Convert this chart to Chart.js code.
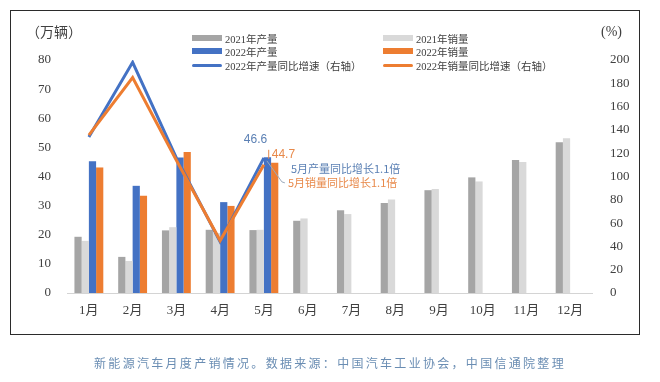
<!DOCTYPE html>
<html><head><meta charset="utf-8">
<script src="https://cdn.jsdelivr.net/npm/chart.js@4/dist/chart.umd.min.js"></script>
<style>
html,body{margin:0;padding:0;background:#fff;}
#wrap{position:relative;width:660px;height:382px;overflow:hidden;background:#fff;}
#frame{position:absolute;left:10px;top:10px;width:628px;height:323px;border:1.5px solid #2b2b2b;}
#c{position:absolute;left:0;top:0;}
.t{position:absolute;font-family:'Liberation Serif','Noto Sans CJK SC',serif;color:#404040;white-space:nowrap;}
.lg{position:absolute;font-family:'Liberation Serif','Noto Sans CJK SC',serif;font-size:10.5px;color:#404040;display:flex;align-items:center;white-space:nowrap;height:12px;}
.sw{display:inline-block;width:30px;margin-right:3px;}
#cap{position:absolute;top:354px;left:0;width:660px;text-align:center;font-family:'Noto Sans CJK SC';font-size:12px;color:#6a8db3;letter-spacing:2.3px;}
</style></head>
<body>
<div id="wrap">
<div id="frame"></div>
<canvas id="c" width="660" height="382"></canvas>
<div class="t" style="left:26px;top:21px;font-size:14px;">（万辆）</div>
<div class="t" style="left:601px;top:24px;font-size:14px;">(%)</div>
<div class="lg" style="left:192px;top:32px;"><span class="sw" style="height:6px;background:#a5a5a5"></span>2021年产量</div>
<div class="lg" style="left:383px;top:32px;"><span class="sw" style="height:6px;background:#d9d9d9"></span>2021年销量</div>
<div class="lg" style="left:192px;top:45px;"><span class="sw" style="height:6px;background:#4472c4"></span>2022年产量</div>
<div class="lg" style="left:383px;top:45px;"><span class="sw" style="height:6px;background:#ed7d31"></span>2022年销量</div>
<div class="lg" style="left:192px;top:59px;"><span class="sw" style="height:3px;border-radius:2px;background:#4472c4"></span>2022年产量同比增速（右轴）</div>
<div class="lg" style="left:383px;top:59px;"><span class="sw" style="height:3px;border-radius:2px;background:#ed7d31"></span>2022年销量同比增速（右轴）</div>
<div id="cap">新能源汽车月度产销情况。数据来源：中国汽车工业协会，中国信通院整理</div>
</div>
<script>
const months = ['1月','2月','3月','4月','5月','6月','7月','8月','9月','10月','11月','12月'];
const prod2021 = [19.3, 12.4, 21.5, 21.7, 21.6, 24.8, 28.4, 30.9, 35.3, 39.7, 45.7, 51.8];
const sales2021 = [17.9, 11.0, 22.6, 20.6, 21.7, 25.6, 27.1, 32.1, 35.7, 38.3, 45.0, 53.1];
const prod2022 = [45.2, 36.8, 46.5, 31.2, 46.6, null, null, null, null, null, null, null];
const sales2022 = [43.1, 33.4, 48.4, 29.9, 44.7, null, null, null, null, null, null, null];
const prodGrowth2022 = [134, 198, 116, 44, 116, null, null, null, null, null, null, null];
const salesGrowth2022 = [135.5, 185, 114, 45, 110, null, null, null, null, null, null, null];
const mayIndex = 4;
const prodNote = '5月产量同比增长1.1倍';
const salesNote = '5月销量同比增长1.1倍';

const tickFont = {family:"'Liberation Serif','Noto Sans CJK SC',serif", size:13};

const annot = {
  id:'annot',
  afterDatasetsDraw(chart){
    const ctx = chart.ctx;
    const pb = chart.getDatasetMeta(4).data[mayIndex];
    const sb = chart.getDatasetMeta(5).data[mayIndex];
    const lp = chart.getDatasetMeta(1).data[mayIndex];
    ctx.save();
    ctx.textBaseline = 'middle';
    ctx.font = "12px 'Liberation Sans','Noto Sans CJK SC',sans-serif";
    ctx.fillStyle = '#5b80b4';
    ctx.textAlign = 'center';
    ctx.fillText(String(prod2022[mayIndex]), pb.x - 12, pb.y - 18);
    ctx.fillStyle = '#e8894a';
    ctx.textAlign = 'left';
    ctx.fillText(String(sales2022[mayIndex]), sb.x - 3, sb.y - 8);
    ctx.strokeStyle = '#e8894a';
    ctx.lineWidth = 1;
    ctx.beginPath();
    ctx.moveTo(sb.x - 6, sb.y - 13); ctx.lineTo(sb.x - 6, sb.y - 4);
    ctx.stroke();
    ctx.strokeStyle = '#9aa9bb';
    ctx.beginPath();
    ctx.moveTo(lp.x + 3, lp.y + 3); ctx.lineTo(lp.x + 18, lp.y + 24); ctx.lineTo(lp.x + 21, lp.y + 25);
    ctx.stroke();
    ctx.font = "11px 'Noto Sans CJK SC',sans-serif";
    ctx.fillStyle = '#5b80b4';
    ctx.fillText(prodNote, lp.x + 27, lp.y + 11);
    ctx.fillStyle = '#e8894a';
    ctx.fillText(salesNote, lp.x + 24, lp.y + 25);
    ctx.restore();
  }
};

new Chart(document.getElementById('c'), {
  data: {
    labels: months,
    datasets: [
      {type:'line', label:'2022年销量同比增速（右轴）', data:salesGrowth2022, yAxisID:'y1', borderColor:'#ed7d31', borderWidth:3, pointRadius:0, tension:0, order:0, spanGaps:false},
      {type:'line', label:'2022年产量同比增速（右轴）', data:prodGrowth2022, yAxisID:'y1', borderColor:'#4472c4', borderWidth:3, pointRadius:0, tension:0, order:1, spanGaps:false},
      {type:'bar', label:'2021年产量', data:prod2021, yAxisID:'y', backgroundColor:'#a5a5a5', order:2},
      {type:'bar', label:'2021年销量', data:sales2021, yAxisID:'y', backgroundColor:'#d9d9d9', order:2},
      {type:'bar', label:'2022年产量', data:prod2022, yAxisID:'y', backgroundColor:'#4472c4', order:2},
      {type:'bar', label:'2022年销量', data:sales2022, yAxisID:'y', backgroundColor:'#ed7d31', order:2}
    ]
  },
  options: {
    responsive:false, animation:false, devicePixelRatio:1,
    layout:{padding:{top:60,left:0,right:0,bottom:0}},
    datasets:{bar:{categoryPercentage:0.66, barPercentage:1.0}},
    plugins:{legend:{display:false}, tooltip:{enabled:false}},
    scales:{
      x:{grid:{display:false, drawTicks:false}, border:{display:true, color:'#d4d4d4', width:1},
         ticks:{padding:10, color:'#404040', font:tickFont, autoSkip:false, maxRotation:0},
         afterFit(s){ s.height = 382 - 293; }},
      y:{position:'left', min:0, max:80, grid:{display:false}, border:{display:false},
         ticks:{stepSize:10, padding:8, color:'#404040', font:tickFont},
         afterFit(s){ s.width = 67; }},
      y1:{position:'right', min:0, max:200, grid:{display:false}, border:{display:false},
         ticks:{stepSize:20, padding:10, color:'#404040', font:tickFont},
         afterFit(s){ s.width = 660 - 592; }}
    }
  },
  plugins:[annot]
});
</script>
</body></html>
